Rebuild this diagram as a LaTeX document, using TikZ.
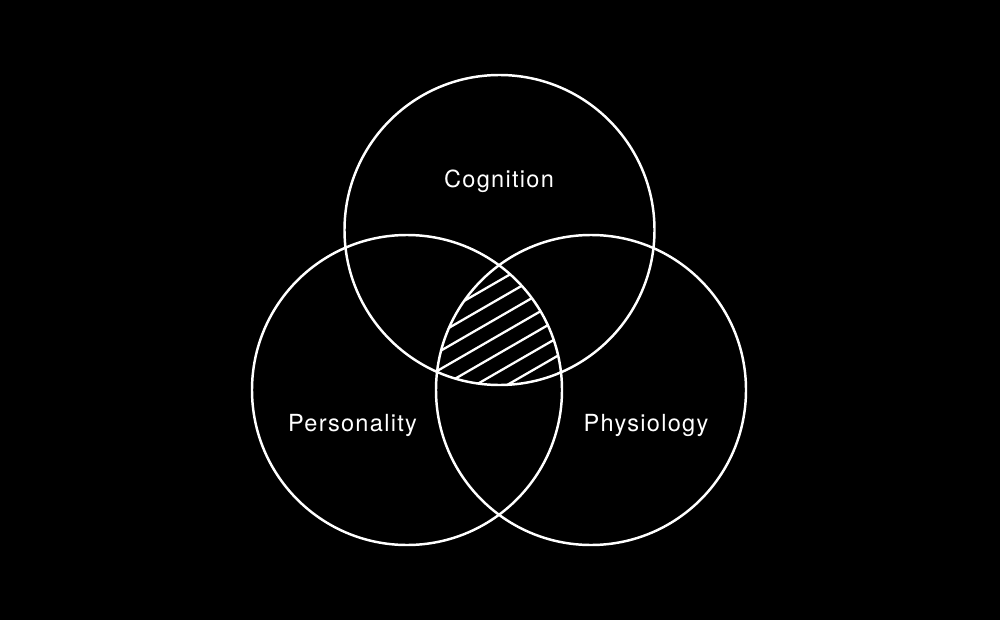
\documentclass[tikz,border=0pt]{standalone}
\usepackage{fontspec}
\setmainfont[LetterSpace=5.5]{TeX Gyre Heros}
\begin{document}
\begin{tikzpicture}
\tikzset{
  ring/.style={draw=white, line width=1.4pt},
  hatchline/.style={draw=white, line width=1.3pt},
  lbl/.style={text=white, font=\fontsize{13.4pt}{16pt}\selectfont, anchor=base, inner sep=0pt}
}
\fill[black] (0,0) rectangle (20,12.4);
\useasboundingbox (0,0) rectangle (20,12.4);
\coordinate (ctop) at (9.99,7.8);
\coordinate (cleft) at (8.14,4.6);
\coordinate (cright) at (11.82,4.6);
\begin{scope}
  \clip (ctop) circle (3.1);
  \clip (cleft) circle (3.1);
  \clip (cright) circle (3.1);
  \foreach \k in {-3,...,9} {
    \draw[hatchline] (7,{6.796-0.363*\k-3*0.5774}) -- (13,{6.796-0.363*\k+3*0.5774});
  }
\end{scope}
\draw[ring] (ctop) circle (3.1);
\draw[ring] (cleft) circle (3.1);
\draw[ring] (cright) circle (3.1);
\node[lbl] (cog) at (9.98,8.654) {Cognition};
\node[lbl] (per) at (7.05,3.766) {Personality};
\node[lbl] (phy) at (12.92,3.766) {Physiology};
\end{tikzpicture}
\end{document}
